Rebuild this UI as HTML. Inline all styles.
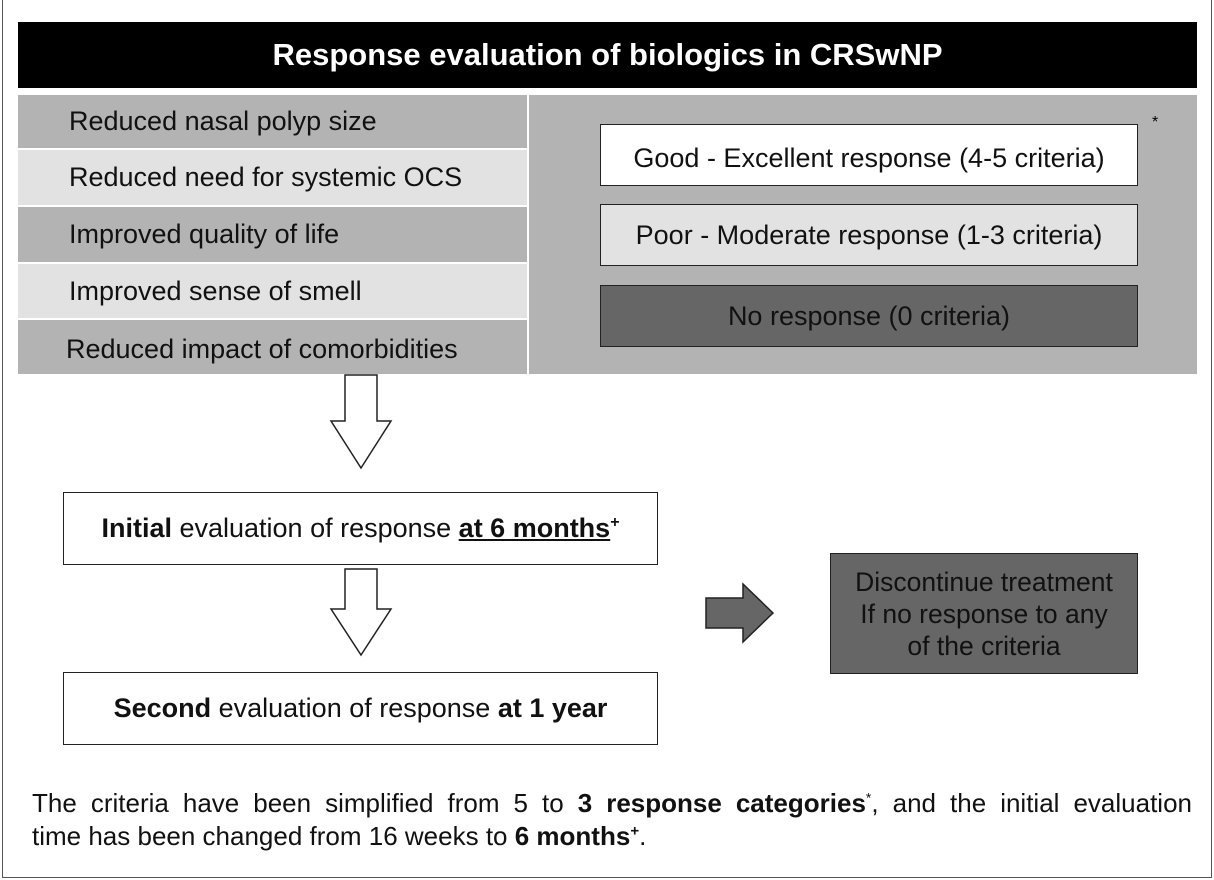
<!DOCTYPE html>
<html><head><style>
body{margin:0;width:1214px;height:880px;background:#fff;font-family:"Liberation Sans",Arial,sans-serif;position:relative;overflow:hidden}
.a{position:absolute;box-sizing:border-box}
.row{left:18px;width:509px;font-size:27px;color:#111;padding-left:51px;display:flex;align-items:center}
.d{background:#b3b3b3}.l{background:#e2e2e2}
.bx{border:1.5px solid #222;display:flex;align-items:center;justify-content:center;font-size:27px;color:#111}
</style></head><body>
<div class="a" style="left:2px;top:0;width:1210px;height:878px;border:1px solid #555;border-top:none"></div>
<div class="a" style="left:18px;top:22px;width:1179px;height:66px;background:#000;color:#fff;font-weight:bold;font-size:31px;display:flex;align-items:center;justify-content:center">Response evaluation of biologics in CRSwNP</div>
<div class="a row d" style="top:95px;height:53px">Reduced nasal polyp size</div>
<div class="a row l" style="top:150px;height:55px">Reduced need for systemic OCS</div>
<div class="a row d" style="top:207px;height:55px">Improved quality of life</div>
<div class="a row l" style="top:264px;height:54px">Improved sense of smell</div>
<div class="a row d" style="top:320px;height:54px;padding-left:48px;padding-top:4px">Reduced impact of comorbidities</div>
<div class="a d" style="left:529px;top:95px;width:668px;height:279px"></div>
<div class="a bx" style="left:600px;top:124px;width:538px;height:62px;background:#fff;padding-top:6px">Good - Excellent response (4-5 criteria)</div>
<div class="a" style="left:1152px;top:114px;font-size:16px">*</div>
<div class="a bx" style="left:600px;top:204px;width:538px;height:62px;background:#e2e2e2">Poor - Moderate response (1-3 criteria)</div>
<div class="a bx" style="left:600px;top:285px;width:538px;height:62px;background:#666">No response (0 criteria)</div>
<svg class="a" style="left:0;top:0" width="1214" height="880">
<polygon points="345,375 377,375 377,421 391,421 361,468 331,421 345,421" fill="#fff" stroke="#222" stroke-width="1.5"/>
<polygon points="345,569 377,569 377,609 391,609 361,655 331,609 345,609" fill="#fff" stroke="#222" stroke-width="1.5"/>
<polygon points="706,598 743,598 743,584 773,613 743,642 743,628 706,628" fill="#666" stroke="#222" stroke-width="1.5"/>
</svg>
<div class="a bx" style="left:63px;top:492px;width:595px;height:73px;background:#fff"><span><b>Initial</b> evaluation of response <b><u>at 6 months</u><sup style="font-size:16px">+</sup></b></span></div>
<div class="a bx" style="left:63px;top:672px;width:595px;height:73px;background:#fff"><span><b>Second</b> evaluation of response <b>at 1 year</b></span></div>
<div class="a bx" style="left:830px;top:553px;width:308px;height:121px;background:#666;text-align:center;line-height:32px;font-size:26.5px">Discontinue treatment<br>If no response to any<br>of the criteria</div>
<div class="a" style="left:32px;top:787px;width:1160px;font-size:26px;line-height:33px;color:#111">
<div style="text-align:justify;text-align-last:justify;white-space:nowrap">The criteria have been simplified from 5 to <b>3 response categories</b><sup style="font-size:14px;line-height:0">*</sup>, and the initial evaluation</div>
<div>time has been changed from 16 weeks to <b>6 months<sup style="font-size:15px;line-height:0">+</sup></b>.</div>
</div>
</body></html>
